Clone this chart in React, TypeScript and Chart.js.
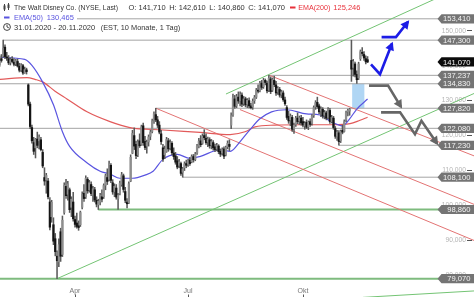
import React, { useEffect, useRef } from 'react';
import { Chart, registerables } from 'chart.js';

Chart.register(...registerables);

const FONT = '"Liberation Sans", Arial, sans-serif';

// ---- Daily candles, 31.01.2020 - 20.11.2020 (x = trading day index) ----
const opens = [
  140.2, 142.0, 142.8, 145.3, 142.5, 142.0, 140.9, 141.8, 141.0, 140.5, 141.2, 139.8, 138.8, 140.0, 138.0, 138.8,
  134.5, 129.0, 122.3, 118.0, 116.5, 119.0, 118.5, 118.8, 115.2, 108.0, 107.3, 107.0, 101.0, 96.8, 94.5, 90.5,
  85.5, 83.9, 92.5, 86.0, 98.0, 105.5, 103.2, 104.5, 99.5, 101.0, 96.0, 95.0, 94.2, 94.5, 99.5, 103.5,
  102.5, 107.5, 104.5, 106.0, 103.0, 104.5, 101.5, 100.2, 101.0, 102.5, 102.5, 105.8, 108.0, 107.5, 111.5, 106.5,
  104.0, 105.0, 102.0, 103.5, 106.0, 108.5, 104.0, 101.0, 100.8, 107.0, 115.0, 120.0, 117.5, 114.5, 118.5, 117.5,
  122.8, 118.3, 117.0, 118.2, 119.8, 121.2, 124.5, 126.0, 124.5, 123.0, 120.5, 116.5, 114.5, 115.5, 118.5, 116.5,
  117.8, 115.0, 114.2, 112.8, 111.5, 112.0, 109.5, 110.8, 112.0, 111.8, 113.0, 112.5, 114.0, 113.2, 115.0, 117.0,
  118.5, 117.8, 120.0, 119.2, 118.2, 118.8, 117.3, 118.0, 116.8, 116.2, 117.0, 115.5, 115.0, 116.2, 114.5, 116.8,
  117.5, 123.0, 126.0, 130.5, 128.5, 131.0, 130.0, 131.6, 129.2, 130.5, 129.0, 130.0, 128.5, 128.2, 130.0, 131.0,
  133.0, 132.8, 135.0, 134.0, 135.8, 135.0, 133.0, 136.2, 133.0, 135.8, 134.5, 132.5, 133.2, 131.8, 132.2, 130.2,
  128.0, 125.5, 124.5, 125.2, 122.0, 123.2, 125.0, 124.2, 125.0, 124.0, 122.8, 123.8, 122.5, 124.0, 123.5, 125.8,
  128.2, 129.5, 128.5, 127.0, 127.5, 125.8, 126.5, 125.2, 127.2, 124.0, 125.0, 122.0, 119.8, 120.8, 118.5, 121.5,
  121.2, 124.5, 126.8, 127.0, 141.5, 139.5, 140.5, 137.5, 136.5, 142.0, 143.8, 143.2, 142.0, 141.71,
];
const highs = [
  142.8, 143.2, 147.3, 146.0, 143.8, 142.9, 142.2, 142.6, 142.0, 141.8, 141.9, 140.7, 140.6, 140.4, 139.6, 139.3,
  134.8, 129.6, 123.0, 119.5, 119.2, 121.0, 120.2, 119.5, 116.0, 110.8, 109.2, 107.8, 102.3, 101.5, 96.5, 92.0,
  87.0, 90.5, 93.5, 97.0, 106.5, 107.5, 106.9, 105.0, 102.5, 103.8, 97.0, 97.8, 95.6, 98.4, 103.9, 106.0,
  108.5, 108.0, 107.2, 106.8, 105.5, 105.2, 102.5, 101.8, 103.5, 104.5, 106.2, 109.0, 110.5, 112.7, 112.0, 107.4,
  106.2, 106.0, 103.5, 107.0, 109.5, 109.0, 105.2, 102.0, 106.8, 114.5, 121.5, 122.2, 118.4, 118.8, 120.5, 123.0,
  123.6, 119.8, 118.7, 120.2, 121.5, 124.7, 126.8, 127.82, 125.5, 124.0, 121.5, 117.5, 117.0, 119.5, 119.2, 118.8,
  118.3, 116.5, 115.2, 114.0, 113.2, 112.4, 110.9, 112.5, 113.0, 113.2, 113.8, 114.5, 114.6, 115.2, 117.5, 119.2,
  120.0, 120.5, 121.7, 120.5, 119.6, 119.4, 118.9, 118.6, 117.6, 117.8, 117.4, 116.2, 116.5, 116.8, 117.0, 118.5,
  118.8, 126.5, 131.9, 131.5, 131.8, 132.5, 132.5, 132.2, 131.2, 131.0, 130.6, 130.8, 129.2, 130.5, 131.5, 133.5,
  134.5, 135.5, 135.8, 136.4, 136.2, 135.6, 137.237, 136.8, 136.5, 137.0, 135.5, 134.0, 133.8, 133.0, 132.8, 131.0,
  128.6, 127.0, 126.2, 125.8, 123.6, 125.5, 126.5, 125.6, 125.8, 125.2, 124.0, 124.5, 124.2, 124.8, 126.0, 128.5,
  130.0, 131.0, 129.0, 128.2, 128.0, 127.2, 127.0, 128.0, 127.8, 125.8, 125.5, 122.6, 121.5, 121.4, 121.6, 123.0,
  124.5, 127.0, 127.6, 127.82, 147.3, 141.8, 141.0, 138.5, 141.0, 144.5, 145.2, 144.0, 142.8, 142.61,
];
const lows = [
  139.8, 141.0, 142.4, 142.0, 141.5, 140.3, 140.2, 140.8, 139.9, 140.0, 139.6, 138.2, 138.3, 137.5, 137.8, 137.6,
  128.5, 122.0, 117.8, 114.6, 113.6, 116.5, 116.2, 115.6, 110.8, 105.8, 103.5, 101.9, 93.0, 95.2, 88.8, 85.6,
  79.07, 82.5, 84.0, 85.4, 97.5, 102.0, 101.5, 98.0, 96.8, 95.5, 93.8, 93.5, 92.9, 94.0, 99.0, 101.2,
  102.0, 103.5, 103.8, 102.8, 101.2, 101.0, 99.6, 98.86, 100.2, 101.0, 102.0, 104.5, 106.0, 107.0, 106.5, 103.2,
  102.5, 101.8, 98.9, 103.0, 105.5, 103.8, 100.8, 99.3, 100.5, 106.8, 114.8, 116.0, 113.4, 114.0, 116.6, 117.2,
  117.2, 116.0, 115.0, 117.0, 118.8, 120.8, 123.5, 124.0, 122.3, 120.5, 117.5, 112.6, 113.4, 115.2, 115.5, 115.9,
  114.5, 113.2, 111.8, 110.5, 110.8, 108.6, 108.1, 110.0, 110.8, 111.2, 111.5, 112.2, 112.4, 112.8, 114.6, 116.5,
  116.8, 117.5, 118.8, 117.5, 116.8, 116.4, 116.2, 115.8, 115.4, 115.6, 114.8, 114.0, 114.4, 113.4, 114.2, 116.2,
  115.7, 122.0, 125.5, 127.8, 128.0, 129.2, 128.5, 128.3, 128.6, 128.2, 128.0, 127.9, 127.6, 127.5, 129.2, 130.6,
  132.2, 132.5, 133.2, 133.5, 134.5, 132.2, 132.6, 132.0, 132.6, 134.0, 131.5, 131.8, 131.0, 130.8, 129.8, 128.6,
  124.6, 123.5, 122.8, 121.2, 120.6, 122.6, 123.4, 123.2, 123.0, 122.5, 121.8, 122.0, 121.7, 122.6, 123.0, 125.2,
  127.5, 127.8, 126.2, 125.4, 125.0, 124.8, 124.5, 124.8, 123.5, 123.6, 121.8, 119.2, 118.6, 117.23, 118.0, 120.5,
  121.0, 124.0, 125.6, 125.8, 135.5, 137.0, 136.8, 134.9, 136.0, 141.5, 142.8, 141.5, 140.5, 140.86,
];
const closes = [
  142.4, 141.5, 145.0, 142.6, 142.2, 140.8, 141.7, 141.2, 140.4, 141.4, 139.9, 138.7, 140.1, 137.9, 138.9, 138.3,
  129.0, 122.6, 118.5, 115.5, 118.9, 117.2, 119.6, 116.0, 111.3, 107.0, 108.6, 102.5, 93.8, 100.9, 89.8, 86.8,
  84.2, 88.8, 85.5, 95.8, 105.8, 102.8, 106.2, 98.8, 101.8, 96.2, 94.6, 94.0, 93.7, 98.0, 103.2, 102.0,
  107.8, 104.2, 106.5, 103.4, 104.8, 101.6, 100.4, 101.2, 102.9, 101.8, 105.7, 108.5, 106.9, 111.9, 107.2, 103.9,
  105.5, 102.4, 102.9, 106.4, 108.8, 104.6, 101.5, 100.5, 106.2, 113.8, 120.6, 117.0, 114.3, 118.2, 117.1, 122.5,
  118.0, 116.6, 118.1, 119.6, 121.0, 124.2, 126.2, 124.5, 123.0, 121.0, 118.3, 113.3, 116.1, 118.9, 116.2, 118.0,
  115.1, 114.0, 112.4, 111.0, 112.5, 109.2, 110.5, 111.9, 111.5, 112.8, 112.0, 114.0, 113.1, 114.7, 117.0, 118.4,
  117.4, 119.8, 119.4, 118.0, 119.0, 117.1, 118.3, 116.5, 116.0, 117.2, 115.4, 114.7, 116.0, 114.1, 116.6, 117.8,
  116.9, 125.7, 130.8, 128.4, 131.2, 129.9, 131.8, 129.0, 130.5, 128.8, 130.1, 128.5, 128.0, 129.8, 130.9, 133.0,
  132.7, 135.0, 133.8, 135.8, 135.2, 132.8, 136.4, 132.6, 136.0, 134.6, 132.2, 133.5, 131.6, 132.5, 130.3, 129.1,
  125.2, 124.2, 125.6, 121.8, 123.0, 125.0, 124.0, 125.1, 123.6, 123.0, 123.5, 122.4, 123.8, 123.2, 125.6, 128.0,
  129.4, 128.3, 126.8, 127.6, 125.6, 126.6, 125.0, 127.5, 124.0, 125.2, 122.3, 119.8, 121.0, 118.3, 121.2, 121.0,
  124.0, 126.5, 127.2, 127.5, 139.0, 141.2, 137.5, 136.0, 140.5, 144.0, 143.5, 142.2, 141.1, 141.07,
];

// ---- Moving averages ----
const ema50Idx = [0, 14, 18, 24, 30, 35, 39, 49, 56, 61.5, 67, 74, 81, 85.5, 91, 99, 106, 111.5, 123, 128.5, 134, 139.5, 145, 151.5, 160, 171, 178.5, 184, 191, 195, 199, 205];
const ema50Val = [142.4, 141.8, 140.1, 135.3, 128.8, 121.1, 116.9, 112.1, 109.8, 109.0, 107.8, 107.8, 108.7, 109.8, 113.2, 114.6, 113.5, 114.0, 116.0, 115.5, 118.3, 121.7, 124.8, 126.8, 127.4, 126.2, 125.9, 124.2, 122.8, 124.8, 127.6, 130.465];
const ema200Idx = [0, 15.3, 19.7, 24.2, 30.9, 37.5, 48.7, 61.5, 72.6, 91, 111.6, 128.4, 136.7, 142.3, 153.4, 167.3, 185.7, 195.2, 200.8, 205];
const ema200Val = [136.1, 136.6, 136.1, 135.3, 132.7, 130.5, 126.8, 124.0, 122.3, 121.6, 120.9, 120.3, 121.1, 122.5, 123.0, 123.1, 123.1, 123.4, 124.4, 125.246];

// ---- Horizontal support / resistance levels ----
const levelValues = [153.41, 147.3, 137.237, 134.83, 127.82, 122.08, 117.23, 108.1, 98.86, 79.07];
const levelStartIdx = [0, 2, 150, 0, 87, 0, 189, 102, 55, 0];
const levelGreen = [false, false, false, false, false, false, false, false, true, true];
const levelEndIdx = 247;
const lastClose = 141.07;

// ---- Trend channel lines ----
const redFromIdx = [150.5, 133.9, 87.1];
const redFromVal = [137.2, 127.44, 127.82];
const redToIdx = [264.3, 264.3, 264.3];
const redToVal = [114.2, 100.33, 90.0];
const greenFromIdx = [126.1, 32.0, 202.4];
const greenFromVal = [131.89, 79.07, 73.72];
const greenToIdx = [262.1, 264.3, 264.3];
const greenToVal = [163.64, 132.05, 75.56];

// ---- Scenario arrows ----
const grayArrow1Idx = [205.8, 216.4, 223.6];
const grayArrow1Val = [134.29, 134.29, 128.21];
const grayArrow2Idx = [212.5, 223.1, 231.4, 235.0, 243.7];
const grayArrow2Val = [126.65, 126.65, 120.42, 124.24, 117.73];
const blueArrow1Idx = [206.9, 211.9, 218.6];
const blueArrow1Val = [140.38, 137.55, 146.32];
const blueArrow2Idx = [212.8, 220.8, 227.5];
const blueArrow2Val = [148.16, 148.16, 152.55];

// ---- Price gap box ----
const gapFromIdx = 196.4;
const gapToIdx = 203.2;
const gapLow = 127.82;
const gapHigh = 134.83;

// ---- Axes ----
const xTickIdx = [42, 105, 169];
const xTickLabels = ['Apr', 'Jul', 'Okt'];
const yTicks = [80, 90, 100, 110, 120, 130, 140, 150];
const X_MIN = 0.22;
const X_MAX = 260.38;
const Y_MIN = 76.974;
const Y_MAX = 157.925;

const fmt = (v: number) => v.toFixed(3).replace('.', ',');
const xy = (xs: number[], ys: number[]) => xs.map((x, k) => ({ x, y: ys[k] }));

const gapPlugin = {
  id: 'gapBox',
  beforeDatasetsDraw(chart: any) {
    const { ctx, scales } = chart;
    const x1 = scales.x.getPixelForValue(gapFromIdx);
    const x2 = scales.x.getPixelForValue(gapToIdx);
    const y1 = scales.y.getPixelForValue(gapHigh);
    const y2 = scales.y.getPixelForValue(gapLow);
    ctx.save();
    ctx.fillStyle = 'rgba(150, 200, 240, 0.75)';
    ctx.fillRect(x1, y1, x2 - x1, y2 - y1);
    ctx.restore();
  },
};

const arrowPlugin = {
  id: 'arrowHeads',
  afterDatasetsDraw(chart: any) {
    const { ctx, scales } = chart;
    chart.data.datasets.forEach((ds: any) => {
      if (!ds.arrowHead) return;
      const d = ds.data;
      const a = d[d.length - 2];
      const b = d[d.length - 1];
      const ax = scales.x.getPixelForValue(a.x);
      const ay = scales.y.getPixelForValue(a.y);
      const bx = scales.x.getPixelForValue(b.x);
      const by = scales.y.getPixelForValue(b.y);
      const ang = Math.atan2(by - ay, bx - ax);
      const c = Math.cos(ang), s = Math.sin(ang);
      const L = 8.5, W = 4.5;
      const tx = bx + c * 2, ty = by + s * 2;
      const bxc = tx - c * L, byc = ty - s * L;
      ctx.save();
      ctx.fillStyle = ds.borderColor;
      ctx.beginPath();
      ctx.moveTo(tx, ty);
      ctx.lineTo(bxc - s * W, byc + c * W);
      ctx.lineTo(bxc + s * W, byc - c * W);
      ctx.closePath();
      ctx.fill();
      ctx.restore();
    });
  },
};

const overlayPlugin = {
  id: 'overlay',
  afterDraw(chart: any) {
    const { ctx, scales } = chart;
    const W = chart.width;
    const H = chart.height;
    ctx.save();

    // x axis tick marks below labels
    ctx.strokeStyle = '#555';
    ctx.lineWidth = 1;
    xTickIdx.forEach((v) => {
      const x = Math.round(scales.x.getPixelForValue(v)) + 0.5;
      ctx.beginPath();
      ctx.moveTo(x, H - 2.5);
      ctx.lineTo(x, H);
      ctx.stroke();
    });

    // price tags on the right
    const tag = (v: number, fill: string) => {
      const y = scales.y.getPixelForValue(v);
      const left = W - 36.5, tip = 4, h = 4.6;
      ctx.fillStyle = fill;
      ctx.beginPath();
      ctx.moveTo(left, y);
      ctx.lineTo(left + tip, y - h);
      ctx.lineTo(W, y - h);
      ctx.lineTo(W, y + h);
      ctx.lineTo(left + tip, y + h);
      ctx.closePath();
      ctx.fill();
      ctx.fillStyle = '#f4f4f4';
      ctx.font = `7.6px ${FONT}`;
      ctx.textAlign = 'right';
      ctx.textBaseline = 'middle';
      ctx.fillText(fmt(v), W - 3.5, y + 0.5);
    };
    levelValues.forEach((v) => tag(v, '#747474'));
    tag(lastClose, '#0c0c0c');

    // header
    ctx.textAlign = 'left';
    ctx.textBaseline = 'middle';
    ctx.fillStyle = '#ffffff';
    ctx.fillRect(0, 2, 366, 10);
    ctx.fillRect(0, 12, 77, 10);
    ctx.fillRect(0, 22, 183, 10);
    const seg = (t: string, x: number, w: number, y: number, color: string) => {
      ctx.fillStyle = color;
      ctx.font = `7.5px ${FONT}`;
      ctx.fillText(t, x, y, w);
    };
    // candle icon
    ctx.fillStyle = '#444';
    ctx.fillRect(4, 4, 1, 7);
    ctx.fillRect(3.5, 5.5, 2, 4);
    ctx.fillRect(8, 3, 1, 7);
    ctx.fillRect(7.5, 4.5, 2, 3.5);
    seg('The Walt Disney Co. (NYSE, Last)', 14, 104, 7.5, '#333');
    seg('O: 141,710', 128.5, 37.5, 7.5, '#333');
    seg('H: 142,610', 169.2, 36.5, 7.5, '#333');
    seg('L: 140,860', 209.3, 35.5, 7.5, '#333');
    seg('C: 141,070', 248.3, 37, 7.5, '#333');
    ctx.fillStyle = '#e8303a';
    ctx.fillRect(290, 6.5, 5.5, 2);
    seg('EMA(200)', 298.3, 32, 7.5, '#e8303a');
    seg('125,246', 333.3, 28.5, 7.5, '#e8303a');
    ctx.fillStyle = '#5a55e0';
    ctx.fillRect(4, 16.5, 5.5, 2);
    seg('EMA(50)', 14, 29, 17.5, '#5a55e0');
    seg('130,465', 46.7, 27.5, 17.5, '#5a55e0');
    // clock icon
    ctx.strokeStyle = '#444';
    ctx.lineWidth = 1;
    ctx.beginPath();
    ctx.arc(7, 27, 3.4, 0, Math.PI * 2);
    ctx.moveTo(7, 24.8);
    ctx.lineTo(7, 27);
    ctx.lineTo(8.8, 27.8);
    ctx.stroke();
    seg('31.01.2020 - 20.11.2020', 14, 81.5, 27.5, '#333');
    seg('(EST, 10 Monate, 1 Tag)', 100.7, 79.5, 27.5, '#333');

    ctx.restore();
  },
};

export default function App() {
  const canvasRef = useRef<HTMLCanvasElement | null>(null);

  useEffect(() => {
    document.body.style.margin = '0';
    const canvas = canvasRef.current;
    if (!canvas) return;

    const wickData = closes.map((_, k) => ({ x: k, y: [lows[k], highs[k]] }));
    const bodyData = closes.map((c, k) => ({ x: k, y: [Math.min(opens[k], c), Math.max(opens[k], c)] }));
    const bodyColors = closes.map((c, k) => (c >= opens[k] ? '#8e8e8e' : '#141414'));

    const lineBase = {
      type: 'line' as const,
      pointRadius: 0,
      pointHoverRadius: 0,
      fill: false,
      tension: 0,
    };

    const levelSets = levelValues.map((v, k) => ({
      ...lineBase,
      data: [{ x: levelStartIdx[k], y: v }, { x: levelEndIdx, y: v }],
      borderColor: levelGreen[k] ? 'rgba(112, 180, 112, 0.9)' : '#a4a4a4',
      borderWidth: levelGreen[k] ? 2 : 1,
      order: 8,
      clip: false,
    }));

    const redSets = redFromIdx.map((x, k) => ({
      ...lineBase,
      data: [{ x, y: redFromVal[k] }, { x: redToIdx[k], y: redToVal[k] }],
      borderColor: '#e37373',
      borderWidth: 1,
      order: 7,
      clip: false,
    }));
    const greenSets = greenFromIdx.map((x, k) => ({
      ...lineBase,
      data: [{ x, y: greenFromVal[k] }, { x: greenToIdx[k], y: greenToVal[k] }],
      borderColor: '#74c474',
      borderWidth: 1,
      order: 7,
      clip: false,
    }));

    const arrow = (xs: number[], ys: number[], color: string) => ({
      ...lineBase,
      data: xy(xs, ys),
      borderColor: color,
      borderWidth: 2.6,
      borderJoinStyle: 'miter' as const,
      order: 0,
      clip: false,
      arrowHead: true,
    });

    const chart = new Chart(canvas, {
      type: 'bar',
      data: {
        datasets: [
          arrow(grayArrow1Idx, grayArrow1Val, '#666666'),
          arrow(grayArrow2Idx, grayArrow2Val, '#666666'),
          arrow(blueArrow1Idx, blueArrow1Val, '#1c1ce6'),
          arrow(blueArrow2Idx, blueArrow2Val, '#1c1ce6'),
          {
            type: 'bar',
            data: bodyData,
            backgroundColor: bodyColors,
            barThickness: 1.6,
            minBarLength: 1,
            grouped: false,
            order: 1,
          },
          {
            type: 'bar',
            data: wickData,
            backgroundColor: '#5a5a5a',
            barThickness: 0.9,
            grouped: false,
            order: 2,
          },
          {
            ...lineBase,
            data: xy(ema50Idx, ema50Val),
            borderColor: '#5a55e0',
            borderWidth: 1.2,
            cubicInterpolationMode: 'monotone',
            order: 3,
          },
          {
            ...lineBase,
            data: xy(ema200Idx, ema200Val),
            borderColor: '#e25a5a',
            borderWidth: 1.2,
            cubicInterpolationMode: 'monotone',
            order: 4,
          },
          ...redSets,
          ...greenSets,
          ...levelSets,
        ] as any,
      },
      options: {
        animation: false,
        responsive: true,
        maintainAspectRatio: false,
        devicePixelRatio: 1,
        layout: { padding: 0 },
        plugins: {
          legend: { display: false },
          tooltip: { enabled: false },
        },
        events: [],
        scales: {
          x: {
            type: 'linear',
            min: X_MIN,
            max: X_MAX,
            offset: false,
            afterFit: (s: any) => { s.height = 11; },
            afterBuildTicks: (s: any) => { s.ticks = xTickIdx.map((v) => ({ value: v })); },
            ticks: {
              autoSkip: false,
              maxRotation: 0,
              padding: 1,
              color: '#777',
              font: { size: 7, family: FONT },
              callback: (_v: any, idx: number) => xTickLabels[idx],
            },
            grid: { display: false, drawTicks: false },
            border: { display: false },
          },
          y: {
            type: 'linear',
            position: 'right',
            min: Y_MIN,
            max: Y_MAX,
            afterFit: (s: any) => { s.width = 7; },
            afterBuildTicks: (s: any) => { s.ticks = yTicks.map((v) => ({ value: v })); },
            ticks: {
              mirror: true,
              padding: -1,
              color: '#b4b4b4',
              font: { size: 6.7, family: FONT },
              callback: (v: any) => fmt(Number(v)),
            },
            grid: {
              drawOnChartArea: false,
              drawTicks: true,
              tickLength: 5,
              tickColor: '#555',
              color: '#555',
            },
            border: { display: false },
          },
        },
      } as any,
      plugins: [gapPlugin, arrowPlugin, overlayPlugin],
    });

    return () => chart.destroy();
  }, []);

  return (
    <div style={{ width: 474, height: 297, position: 'relative', background: '#fff' }}>
      <canvas ref={canvasRef} style={{ display: 'block' }} />
    </div>
  );
}
